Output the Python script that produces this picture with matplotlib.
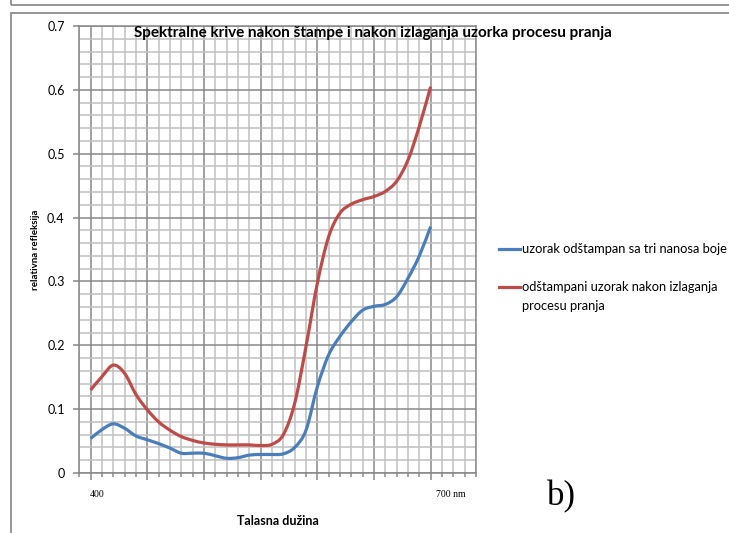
import matplotlib
matplotlib.use('Agg')
import matplotlib.pyplot as plt
from matplotlib.patches import Rectangle, PathPatch
from matplotlib.path import Path
from matplotlib.lines import Line2D
from matplotlib.ticker import MultipleLocator
import numpy as np

# talasne duzine (nm), korak 10 nm
talasna = np.arange(400, 701, 10)

# uzorak odstampan sa tri nanosa boje
uzorak = [0.054, 0.068, 0.077, 0.070, 0.058, 0.052, 0.046, 0.039, 0.031, 0.031,
          0.031, 0.027, 0.023, 0.024, 0.028, 0.029, 0.029, 0.030, 0.040, 0.067,
          0.135, 0.185, 0.214, 0.237, 0.255, 0.261, 0.264, 0.276, 0.305, 0.340,
          0.386]

# uzorak nakon procesa pranja
pranje = [0.130, 0.151, 0.169, 0.156, 0.123, 0.099, 0.080, 0.067, 0.057, 0.051,
          0.047, 0.045, 0.044, 0.044, 0.044, 0.043, 0.045, 0.060, 0.109, 0.198,
          0.297, 0.370, 0.407, 0.421, 0.428, 0.433, 0.441, 0.457, 0.490, 0.543,
          0.605]

naziv_1 = 'uzorak odštampan sa tri nanosa boje'
naziv_2 = ['odštampani uzorak nakon izlaganja', 'procesu pranja']
plava = '#4a7ebb'
crvena = '#be4b48'

plt.rcParams['font.family'] = ['Lato', 'DejaVu Sans']


def glatka_kriva(x, y):
    # Bezier segmenti kroz tacke (kao "smoothed line" u Excelu)
    p = np.column_stack([x, y]).astype(float)
    n = len(p)
    verts = [p[0]]
    codes = [Path.MOVETO]
    for i in range(n - 1):
        p0 = p[i - 1] if i > 0 else p[i]
        p3 = p[i + 2] if i + 2 < n else p[i + 1]
        c1 = p[i] + (p[i + 1] - p0) / 6
        c2 = p[i + 1] - (p3 - p[i]) / 6
        verts += [c1, c2, p[i + 1]]
        codes += [Path.CURVE4] * 3
    return Path(verts, codes)


fig = plt.figure(figsize=(7.29, 5.33), dpi=100)
W, H = 729, 533

# okvir oko grafikona
fig.patches.append(Rectangle((11.5 / W, -0.1), 1.2, 1.1 - 13.5 / H,
                             transform=fig.transFigure, fill=False,
                             edgecolor='#8c8c8c', linewidth=1.3))
fig.patches.append(Rectangle((11.5 / W, 1 - 4.5 / H), 1.2, 0.2,
                             transform=fig.transFigure, fill=False,
                             edgecolor='#8c8c8c', linewidth=1.3))

ax = fig.add_axes([79.3 / W, 1 - 473 / H, 396.7 / W, 447 / H])

for vrijednosti, boja in [(uzorak, plava), (pranje, crvena)]:
    ax.add_patch(PathPatch(glatka_kriva(talasna, vrijednosti), fill=False,
                           edgecolor=boja, linewidth=2.3, joinstyle='round',
                           capstyle='butt', zorder=3))

ax.set_xlim(390, 740)
ax.set_ylim(0, 0.7)
ax.xaxis.set_major_locator(MultipleLocator(50))
ax.xaxis.set_minor_locator(MultipleLocator(10))
ax.yaxis.set_major_locator(MultipleLocator(0.1))
ax.yaxis.set_minor_locator(MultipleLocator(0.02))

ax.grid(which='minor', color='#c0c0c0', linewidth=1.1, zorder=0)
ax.grid(which='major', color='#878787', linewidth=1.1, zorder=1)
ax.set_axisbelow(True)

for s in ax.spines.values():
    s.set_color('#878787')
    s.set_linewidth(1.1)

ax.tick_params(axis='x', which='major', length=5, width=1.1, color='#878787',
               labelbottom=False)
ax.tick_params(axis='x', which='minor', length=3, width=1.1, color='#878787')
ax.tick_params(axis='y', which='major', length=4.5, width=1.1, color='#878787',
               labelsize=9, pad=6)
ax.tick_params(axis='y', which='minor', length=0)
ax.set_yticks(np.arange(0, 0.71, 0.1))
ax.set_yticklabels(['0', '0.1', '0.2', '0.3', '0.4', '0.5', '0.6', '0.7'])

# oznake na x osi
xt = ax.get_xaxis_transform()
ax.text(399.5, -0.047, '400', transform=xt, ha='left', va='center',
        fontsize=7, family='Liberation Serif')
ax.text(705, -0.047, '700 nm', transform=xt, ha='left', va='center',
        fontsize=7, family='Liberation Serif')

ax.set_xlabel('Talasna dužina', fontsize=9, fontweight='bold', labelpad=24)
ax.set_ylabel('relativna refleksija', fontsize=7, fontweight='bold', labelpad=5)

fig.text(373 / W, 1 - 33 / H,
         'Spektralne krive nakon štampe i nakon izlaganja uzorka procesu pranja',
         ha='center', va='center', fontsize=11, fontweight='bold')

# legenda
for y_px, boja, redovi in [(249, plava, [naziv_1]), (287, crvena, naziv_2)]:
    fig.add_artist(Line2D([499 / W, 520 / W], [1 - y_px / H] * 2, color=boja,
                          linewidth=2.3, transform=fig.transFigure))
    for k, red in enumerate(redovi):
        fig.text(522 / W, 1 - (y_px + 19 * k) / H, red, ha='left',
                 va='center', fontsize=9.3)

fig.text(561 / W, 1 - 497 / H, 'b)', ha='center', va='center', fontsize=25,
         family='Liberation Serif')

fig.savefig('out.png', dpi=100)
